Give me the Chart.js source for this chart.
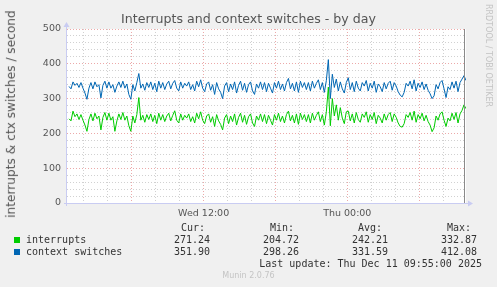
<!DOCTYPE html>
<html>
<head>
<meta charset="utf-8">
<script src="https://cdn.jsdelivr.net/npm/chart.js@4.4.0/dist/chart.umd.min.js"></script>
<style>
html, body { margin: 0; padding: 0; background: #f0f0f0; }
#wrap { position: relative; width: 497px; height: 287px; overflow: hidden; background: #f0f0f0; font-family: "DejaVu Sans", sans-serif; color: #444; }
#chart { position: absolute; left: 0; top: 0; }
.t { position: absolute; white-space: pre; line-height: 1; }
.mono { font-family: "DejaVu Sans Mono", monospace; font-size: 10px; color: #333; }
.r { text-align: right; }
.sq { position: absolute; width: 6px; height: 6px; }
</style>
</head>
<body>
<div id="wrap">
<canvas id="chart" width="497" height="287"></canvas>
<div class="t" style="left:0;width:497px;text-align:center;top:13px;font-size:12.6px;color:#555;">Interrupts and context switches - by day</div>
<div class="t" style="left:-139px;width:300px;text-align:center;top:108px;font-size:12.2px;transform:rotate(-90deg);color:#555;">interrupts &amp; ctx switches / second</div>
<div class="t" style="left:438px;width:100px;text-align:center;top:50px;font-size:8px;transform:rotate(90deg);color:#c4c4c4;">RRDTOOL / TOBI OETIKER</div>

<div class="t mono r" style="left:150px;width:55px;top:223px;">Cur:</div>
<div class="t mono r" style="left:239px;width:55px;top:223px;">Min:</div>
<div class="t mono r" style="left:327px;width:55px;top:223px;">Avg:</div>
<div class="t mono r" style="left:416px;width:55px;top:223px;">Max:</div>

<div class="sq" style="left:14px;top:237px;background:#00cc00;"></div>
<div class="t mono" style="left:26px;top:235px;">interrupts</div>
<div class="t mono r" style="left:150px;width:60px;top:235px;">271.24</div>
<div class="t mono r" style="left:239px;width:60px;top:235px;">204.72</div>
<div class="t mono r" style="left:328px;width:60px;top:235px;">242.21</div>
<div class="t mono r" style="left:417px;width:60px;top:235px;">332.87</div>

<div class="sq" style="left:14px;top:249px;background:#0066b3;"></div>
<div class="t mono" style="left:26px;top:247px;">context switches</div>
<div class="t mono r" style="left:150px;width:60px;top:247px;">351.90</div>
<div class="t mono r" style="left:239px;width:60px;top:247px;">298.26</div>
<div class="t mono r" style="left:328px;width:60px;top:247px;">331.59</div>
<div class="t mono r" style="left:417px;width:60px;top:247px;">412.08</div>

<div class="t mono r" style="left:182px;width:300px;top:259px;">Last update: Thu Dec 11 09:55:00 2025</div>
<div class="t" style="left:0;width:497px;text-align:center;top:272px;font-size:8px;color:#c4c4c4;">Munin 2.0.76</div>
</div>

<script>
// one sample every 10 minutes, first at Wed 00:45 (hours since Wed 00:00)
const startHour = 0.75;
const stepHours = 10 / 60;
const axisMin = 0.5833;
const axisMax = 33.9167;

const interrupts = [
    242, 236, 264, 248, 256, 240, 254, 238, 224, 206,
    240, 256, 236, 258, 242, 250, 210, 246, 260, 238,
    258, 238, 248, 206, 236, 256, 240, 260, 238, 250,
    222, 206, 250, 230, 254, 303, 238, 252, 232, 254,
    240, 256, 234, 252, 228, 258, 238, 254, 234, 250,
    258, 236, 252, 265, 238, 230, 256, 238, 252, 244,
    256, 234, 248, 230, 258, 242, 262, 238, 228, 250,
    256, 232, 248, 220, 254, 236, 226, 210, 244, 254,
    228, 250, 234, 256, 224, 246, 258, 232, 252, 226,
    248, 256, 230, 220, 250, 238, 256, 234, 254, 228,
    252, 238, 224, 254, 238, 258, 234, 250, 230, 254,
    264, 236, 252, 230, 256, 226, 258, 240, 254, 234,
    254, 230, 258, 238, 252, 262, 234, 254, 224, 262,
    333, 222, 300, 250, 282, 238, 274, 244, 228, 262,
    264, 236, 256, 230, 260, 240, 232, 256, 246, 262,
    232, 254, 240, 260, 228, 252, 244, 230, 256, 238,
    254, 260, 234, 256, 246, 230, 220, 218, 228, 254,
    246, 260, 238, 264, 232, 254, 242, 258, 236, 252,
    234, 224, 205, 216, 250, 238, 256, 262, 238, 220,
    244, 236, 258, 240, 260, 230, 256, 266, 282, 271
];

const contextSwitches = [
    335, 328, 348, 338, 344, 332, 346, 330, 316, 298,
    330, 346, 328, 348, 334, 340, 302, 338, 350, 330,
    348, 330, 340, 318, 336, 348, 332, 350, 330, 342,
    312, 298, 340, 322, 346, 372, 330, 342, 324, 346,
    332, 348, 326, 344, 320, 350, 330, 346, 326, 342,
    350, 328, 344, 352, 330, 322, 348, 330, 344, 336,
    348, 326, 340, 322, 350, 334, 354, 330, 320, 342,
    348, 324, 340, 312, 346, 328, 318, 300, 336, 346,
    320, 342, 326, 348, 316, 338, 350, 324, 344, 318,
    340, 348, 322, 312, 342, 330, 348, 326, 346, 320,
    344, 330, 316, 346, 330, 350, 326, 342, 322, 346,
    358, 328, 344, 322, 348, 318, 350, 332, 346, 326,
    346, 322, 350, 330, 344, 354, 326, 346, 318, 352,
    412, 300, 370, 332, 356, 322, 348, 328, 316, 346,
    360, 326, 346, 320, 350, 330, 322, 346, 336, 352,
    322, 344, 330, 350, 318, 342, 334, 320, 346, 328,
    344, 350, 324, 346, 336, 320, 310, 305, 318, 344,
    336, 350, 328, 354, 322, 344, 332, 348, 326, 342,
    324, 314, 300, 308, 340, 328, 346, 352, 328, 303,
    334, 326, 348, 330, 350, 320, 346, 356, 366, 352
];

const xTickHours = [2, 4, 6, 8, 10, 12, 14, 16, 18, 20, 22, 24, 26, 28, 30, 32];
const xTickLabels = {12: 'Wed 12:00', 24: 'Thu 00:00'};
const yTickValues = [0, 20, 40, 60, 80, 100, 120, 140, 160, 180, 200, 220, 240, 260, 280, 300, 320, 340, 360, 380, 400, 420, 440, 460, 480, 500];

const MAJOR = 'rgba(230, 140, 140, 0.75)';
const MINOR = 'rgba(190, 190, 190, 0.7)';
const AXIS = '#c9ccf2';

function toPoints(values) {
    return values.map((v, i) => ({x: startHour + i * stepHours, y: v}));
}

const rrdFrame = {
    id: 'rrdFrame',
    beforeDraw(chart) {
        const {ctx, chartArea: a} = chart;
        ctx.save();
        ctx.fillStyle = '#ffffff';
        ctx.fillRect(a.left, a.top, a.right - a.left, a.bottom - a.top);
        ctx.restore();
    },
    afterDraw(chart) {
        const {ctx, chartArea: a} = chart;
        ctx.save();
        ctx.lineWidth = 1;
        // "now" line at the right edge
        ctx.strokeStyle = '#8a8a8a';
        ctx.beginPath();
        ctx.moveTo(a.right - 1.5, a.top);
        ctx.lineTo(a.right - 1.5, a.bottom);
        ctx.stroke();
        // axes with arrows
        ctx.strokeStyle = AXIS;
        ctx.fillStyle = AXIS;
        ctx.beginPath();
        ctx.moveTo(a.left - 0.5, a.bottom + 3);
        ctx.lineTo(a.left - 0.5, a.top - 4);
        ctx.moveTo(a.left - 3, a.bottom + 0.5);
        ctx.lineTo(a.right + 3, a.bottom + 0.5);
        ctx.stroke();
        ctx.beginPath();
        ctx.moveTo(a.left - 3.5, a.top - 2);
        ctx.lineTo(a.left + 2.5, a.top - 2);
        ctx.lineTo(a.left - 0.5, a.top - 7);
        ctx.closePath();
        ctx.fill();
        ctx.beginPath();
        ctx.moveTo(a.right + 2, a.bottom - 2.5);
        ctx.lineTo(a.right + 2, a.bottom + 3.5);
        ctx.lineTo(a.right + 7, a.bottom + 0.5);
        ctx.closePath();
        ctx.fill();
        ctx.restore();
    }
};

new Chart(document.getElementById('chart'), {
    type: 'line',
    data: {
        datasets: [
            {
                label: 'interrupts',
                data: toPoints(interrupts),
                borderColor: '#00cc00',
                borderWidth: 1,
                pointRadius: 0,
                tension: 0,
            },
            {
                label: 'context switches',
                data: toPoints(contextSwitches),
                borderColor: '#0066b3',
                borderWidth: 1,
                pointRadius: 0,
                tension: 0,
            }
        ]
    },
    options: {
        responsive: false,
        animation: false,
        layout: {padding: {left: 0, top: 29, right: 31, bottom: 66}},
        plugins: {legend: {display: false}, tooltip: {enabled: false}, title: {display: false}},
        scales: {
            x: {
                type: 'linear',
                min: axisMin,
                max: axisMax,
                afterBuildTicks: (scale) => { scale.ticks = xTickHours.map(v => ({value: v})); },
                afterFit: (scale) => { scale.height = 18; },
                grid: {
                    color: (c) => (c.tick && c.tick.value % 6 === 0 ? MAJOR : MINOR),
                    lineWidth: 1,
                    drawTicks: false,
                },
                border: {display: false, dash: [1, 2]},
                ticks: {
                    autoSkip: false,
                    maxRotation: 0,
                    padding: 5,
                    color: '#555',
                    font: {family: 'DejaVu Sans', size: 9.5},
                    callback: (v) => xTickLabels[v] || '',
                }
            },
            y: {
                min: 0,
                max: 500,
                afterBuildTicks: (scale) => { scale.ticks = yTickValues.map(v => ({value: v})); },
                afterFit: (scale) => { scale.width = 67; },
                grid: {
                    color: (c) => (c.tick && c.tick.value % 100 === 0 ? MAJOR : MINOR),
                    lineWidth: 1,
                    drawTicks: false,
                },
                border: {display: false, dash: [1, 2]},
                ticks: {
                    autoSkip: false,
                    padding: 6,
                    color: '#555',
                    font: {family: 'DejaVu Sans', size: 9.5},
                    callback: (v) => (v % 100 === 0 ? String(v) : ''),
                }
            }
        }
    },
    plugins: [rrdFrame]
});
</script>
</body>
</html>
